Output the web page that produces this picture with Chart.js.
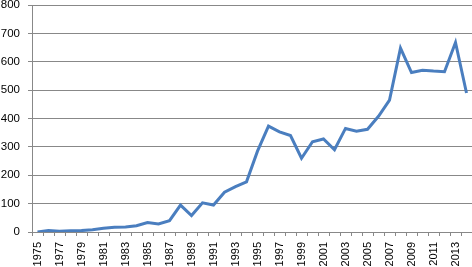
<!DOCTYPE html>
<html>
<head>
<meta charset="utf-8">
<script src="https://cdn.jsdelivr.net/npm/chart.js@4"></script>
<style>
  body { margin: 0; background: #fff; }
  #wrap { width: 472px; height: 267px; }
</style>
</head>
<body>
<div id="wrap"><canvas id="lineChart"></canvas></div>
<script>
const years = [];
for (let y = 1975; y <= 2014; y++) years.push(String(y));

const counts = [0, 5, 3, 4, 5, 8, 13, 17, 18, 22,
                33, 28, 40, 95, 58, 103, 95, 140, 160, 177,
                285, 373, 353, 340, 260, 318, 328, 290, 365, 355,
                362, 408, 465, 648, 562, 570, 567, 565, 668, 490];

const yTicks = [0, 100, 200, 300, 400, 500, 600, 700, 800];

const ctx = document.getElementById("lineChart").getContext("2d");
new Chart(ctx, {
  type: "line",
  data: {
    labels: years,
    datasets: [{
      data: counts,
      borderColor: "#4A7EBF",
      borderWidth: 3,
      pointRadius: 0,
      tension: 0,
      fill: false
    }]
  },
  options: {
    responsive: true,
    maintainAspectRatio: false,
    animation: false,
    layout: { padding: { top: 5, right: 0, left: 0, bottom: 0 } },
    plugins: { legend: { display: false }, tooltip: { enabled: false } },
    scales: {
      x: {
        offset: true,
        afterFit: function (axis) {
          axis.height = 35;
          axis.paddingLeft = 0;
          axis.paddingRight = 0;
        },
        grid: { display: true, drawOnChartArea: false, offset: true, tickLength: 4, color: "#888" },
        border: { color: "#888" },
        ticks: {
          autoSkip: false,
          maxRotation: 90,
          minRotation: 90,
          padding: 6,
          color: "#000",
          font: { family: "Liberation Sans", size: 11 },
          callback: function (val, i) { return i % 2 === 0 ? years[i] : ""; }
        }
      },
      y: {
        min: 0,
        max: 800,
        afterBuildTicks: function (axis) { axis.ticks = yTicks.map(v => ({ value: v })); },
        afterFit: function (axis) {
          axis.width = 32;
          axis.paddingTop = 0;
          axis.paddingBottom = 0;
        },
        grid: { color: "#888", tickLength: 4 },
        border: { color: "#888" },
        ticks: {
          padding: 8,
          color: "#000",
          font: { family: "Liberation Sans", size: 11.5 }
        }
      }
    }
  }
});
</script>
</body>
</html>
